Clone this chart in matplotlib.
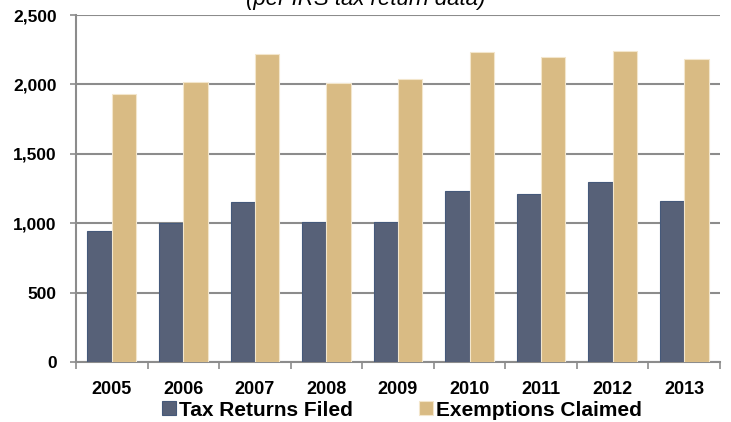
import numpy as np
import matplotlib
matplotlib.use("Agg")
import matplotlib.pyplot as plt
from matplotlib.ticker import FuncFormatter, FixedLocator

# 数据
years = ['2005', '2006', '2007', '2008', '2009', '2010', '2011', '2012', '2013']
tax_returns_filed = [947, 1000, 1155, 1007, 1012, 1232, 1211, 1299, 1158]
exemptions_claimed = [1932, 2017, 2216, 2009, 2036, 2235, 2201, 2242, 2182]
y_ticks = [0, 500, 1000, 1500, 2000, 2500]

plt.rcParams['font.family'] = ['Liberation Sans', 'DejaVu Sans']

dark = '#576178'
gold = '#d9bb84'
grid_gray = '#8c8c8c'

fig = plt.figure(figsize=(7.31, 4.22), dpi=100)
ax = fig.add_axes([76 / 731, 1 - 362 / 422, (720 - 76) / 731, (362 - 15) / 422])

x = np.arange(len(years))
w = 0.34
ax.bar(x - w / 2, tax_returns_filed, w, color=dark, edgecolor='#45597a',
       linewidth=0.8, label='Tax Returns Filed', zorder=3)
ax.bar(x + w / 2, exemptions_claimed, w, color=gold, edgecolor='#f3e6cc',
       linewidth=0.8, label='Exemptions Claimed', zorder=3)

ax.set_xlim(-0.5, len(years) - 0.5)
ax.set_ylim(0, 2500)
ax.set_yticks(y_ticks)
ax.yaxis.set_major_formatter(FuncFormatter(lambda v, p: f'{int(v):,}'))
ax.yaxis.grid(True, color=grid_gray, linewidth=1.5, zorder=0)
ax.set_axisbelow(True)

ax.set_xticks(x)
ax.set_xticklabels(years)
ax.xaxis.set_minor_locator(FixedLocator(np.arange(-0.5, len(years), 1.0)))
ax.tick_params(axis='x', which='major', length=0, pad=14, labelsize=13)
ax.tick_params(axis='x', which='minor', length=5, width=1.2, color=grid_gray)
ax.tick_params(axis='y', length=4, width=1.2, color=grid_gray, pad=10, labelsize=12.5)
for lbl in ax.get_xticklabels() + ax.get_yticklabels():
    lbl.set_fontweight('bold')

for side in ['top', 'right']:
    ax.spines[side].set_visible(False)
for side in ['left', 'bottom']:
    ax.spines[side].set_color(grid_gray)
    ax.spines[side].set_linewidth(1.5)

# 被截断的副标题（原图顶部即被裁掉）
fig.text(0.50, 1 - 5 / 422, '(per IRS tax return data)', ha='center', va='baseline',
         fontsize=16, fontstyle='italic')

fig.legend(loc='center', bbox_to_anchor=(0.55, 1 - 410 / 422), ncol=2, frameon=False,
           prop={'size': 15, 'weight': 'bold'}, handlelength=0.65, handleheight=0.65,
           handletextpad=0.15, columnspacing=3.2, borderaxespad=0)

fig.savefig('out.png', dpi=100)
